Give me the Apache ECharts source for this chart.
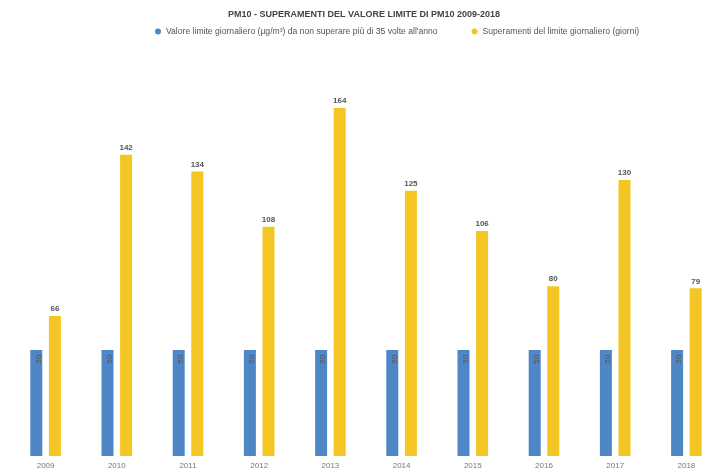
<!DOCTYPE html>
<html>
<head>
<meta charset="utf-8">
<script src="https://cdn.jsdelivr.net/npm/echarts@6/dist/echarts.min.js"></script>
<style>
  html, body { margin: 0; padding: 0; background: #ffffff; }
  #chart { width: 728px; height: 472px; }
</style>
</head>
<body>
<div id="chart"></div>
<script>
// Years on the x axis
const years = ['2009', '2010', '2011', '2012', '2013', '2014', '2015', '2016', '2017', '2018'];
// Daily limit value for PM10 (µg/m³)
const limitValues = [50, 50, 50, 50, 50, 50, 50, 50, 50, 50];
// Number of days above the daily limit
const exceedances = [66, 142, 134, 108, 164, 125, 106, 80, 130, 79];

const seriesNames = [
  'Valore limite giornaliero (µg/m³) da non superare più di 35 volte all\'anno',
  'Superamenti del limite giornaliero (giorni)'
];

const chart = echarts.init(document.getElementById('chart'), null, { renderer: 'canvas' });

chart.setOption({
  backgroundColor: '#ffffff',
  animation: false,
  title: {
    text: 'PM10 - SUPERAMENTI DEL VALORE LIMITE DI PM10 2009-2018',
    left: 'center',
    top: 5,
    textStyle: { fontFamily: 'Liberation Sans', fontSize: 9, fontWeight: 'bold', color: '#444' }
  },
  legend: {
    top: 22,
    left: 150,
    itemGap: 34,
    itemWidth: 6,
    itemHeight: 6,
    icon: 'circle',
    textStyle: { fontFamily: 'Liberation Sans', fontSize: 8.6, color: '#555' },
    data: seriesNames
  },
  grid: { left: 10, right: 6, top: 74, bottom: 16, containLabel: false },
  xAxis: {
    type: 'category',
    data: years,
    axisLine: { show: false },
    axisTick: { show: false },
    axisLabel: { fontFamily: 'Liberation Sans', fontSize: 8, color: '#777', margin: 6 }
  },
  yAxis: {
    type: 'value',
    min: 0,
    max: 180,
    show: false,
    splitLine: { show: false }
  },
  series: [
    {
      name: seriesNames[0],
      type: 'bar',
      data: limitValues,
      barWidth: 12,
      barGap: '55%',
      itemStyle: { color: '#4f86c6' },
      label: {
        show: true,
        position: 'insideTop',
        rotate: 90,
        align: 'right',
        verticalAlign: 'middle',
        offset: [0, 2],
        fontFamily: 'Liberation Sans',
        fontSize: 8,
        color: '#555'
      }
    },
    {
      name: seriesNames[1],
      type: 'bar',
      data: exceedances,
      barWidth: 12,
      itemStyle: { color: '#f3c623' },
      label: {
        show: true,
        position: 'top',
        distance: 3,
        fontFamily: 'Liberation Sans',
        fontSize: 8,
        fontWeight: 'bold',
        color: '#555'
      }
    }
  ]
});
</script>
</body>
</html>
